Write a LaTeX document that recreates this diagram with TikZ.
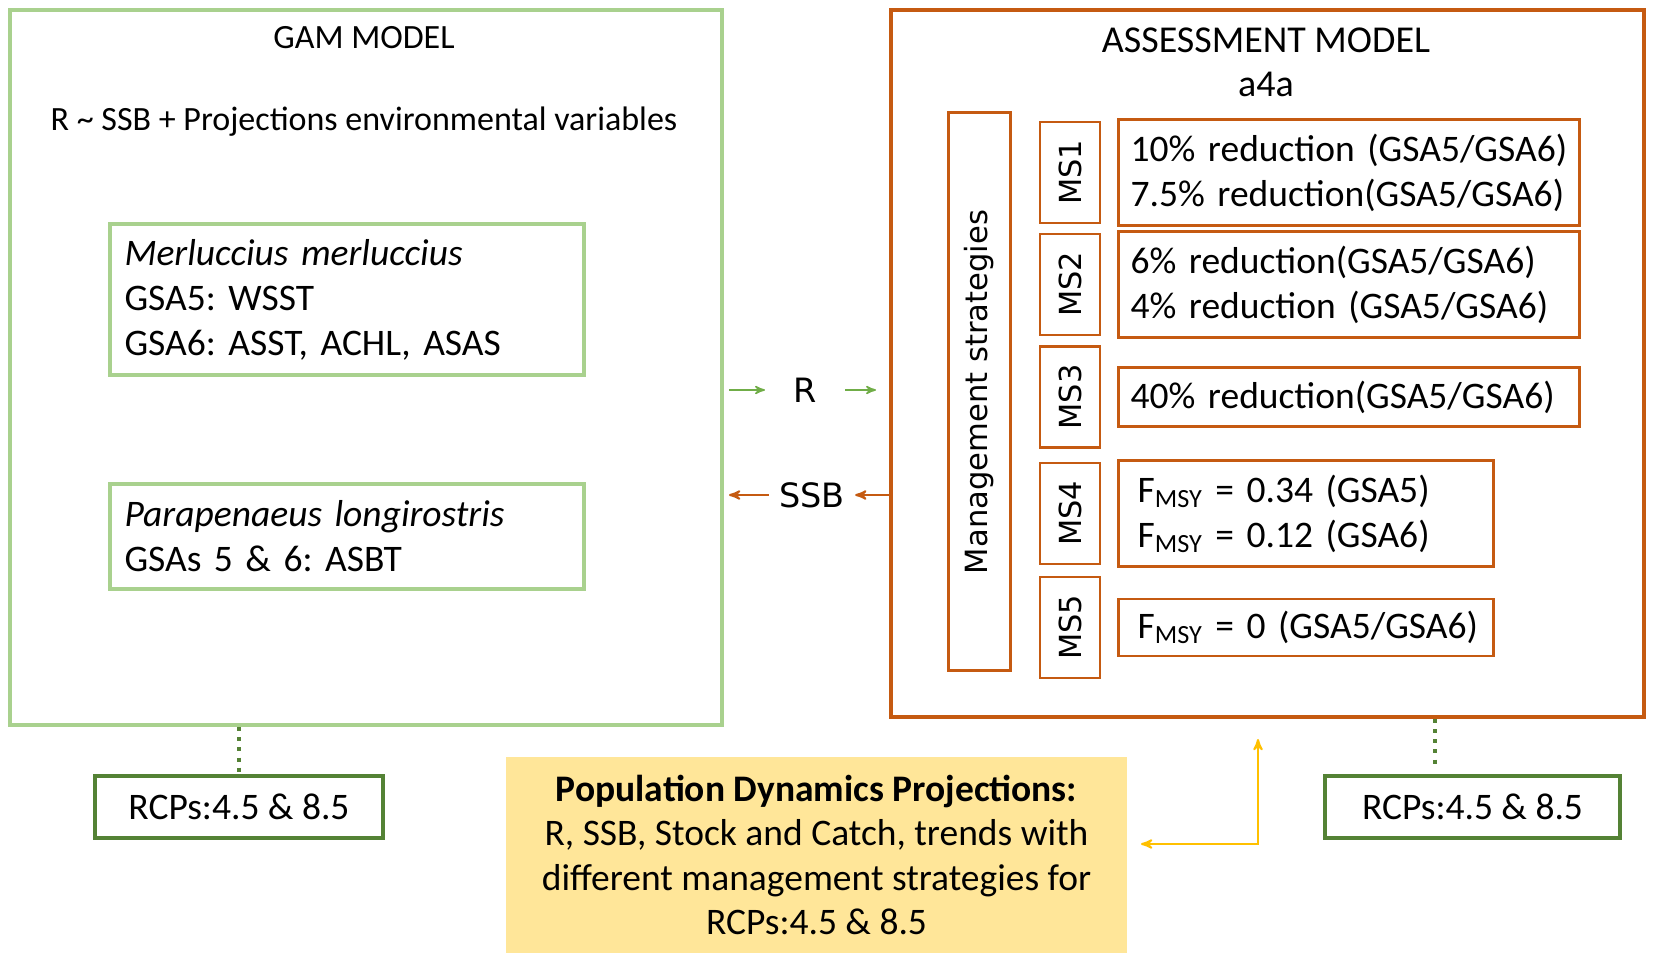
\documentclass[tikz,border=0pt]{standalone}
\usepackage{fontspec}
\setmainfont{Carlito}
\newfontfamily\vera{DejaVu Sans}
\usetikzlibrary{arrows,positioning}
\definecolor{lgreen}{HTML}{A9D18E}
\definecolor{dgreen}{HTML}{548235}
\definecolor{mgreen}{HTML}{70AD47}
\definecolor{rust}{HTML}{C55A11}
\definecolor{sand}{HTML}{FFE699}
\definecolor{gold}{HTML}{FFC000}
\frenchspacing

\begin{document}
\begin{tikzpicture}[x=0.5pt,y=-0.5pt,>=stealth',
  font=\fontsize{18.75}{22.5}\selectfont,
  gbox/.style={draw=lgreen,line width=2pt},
  obox/.style={draw=rust,line width=2pt},
  spbox/.style={gbox,align=left,text width=222pt,inner xsep=7.5pt},
  msbox/.style={draw=rust,line width=1.3pt,minimum width=30pt,minimum height=50.5pt,
    inner sep=0pt,font=\vera\fontsize{15.2}{18}\selectfont},
  redbox/.style={draw=rust,line width=1.3pt,align=left,inner xsep=6pt,text width=218.5pt},
  rcp/.style={draw=dgreen,line width=2.4pt,minimum height=31pt},
  dotline/.style={dgreen,line width=2pt,dash pattern=on 2pt off 3pt},
  garrow/.style={->,mgreen,line width=0.8pt},
  oarrow/.style={->,rust,line width=1pt},
  link/.style={font=\vera\fontsize{16.75}{20}\selectfont}]
  \useasboundingbox (0,0) rectangle (1654,961);

  % GAM side
  \node[gbox,minimum width=356pt,minimum height=357.5pt] (gam) at (366,368) {};
  \node (gamt) at (364,38) [font=\fontsize{17}{20}\selectfont] {GAM MODEL};
  \node (frm) at (364,122) [font=\fontsize{17}{20}\selectfont] {R \textasciitilde{} SSB + Projections environmental variables};
  \node[spbox,minimum height=75.5pt] (mer) at (346.5,299.5)
    {\textit{Merluccius merluccius}\\GSA5: WSST\\GSA6: ASST, ACHL, ASAS};
  \node[spbox,minimum height=52.5pt] (par) at (346.5,536.5)
    {\textit{Parapenaeus longirostris}\\GSAs 5 \& 6: ASBT};

  % assessment side
  \node[obox,minimum width=376.5pt,minimum height=353.5pt] (ass) at (1267.5,364) {};
  \node (asst) at (1266,40) [font=\fontsize{19}{22}\selectfont] {ASSESSMENT MODEL};
  \node (a4a) at (1266,84) [font=\fontsize{19}{22}\selectfont] {a4a};
  \node[draw=rust,line width=1.5pt,minimum width=31pt,minimum height=279pt,inner sep=0pt,
    font=\vera\fontsize{15.3}{18}\selectfont] (mgt) at (979,392) {\rotatebox{90}{Management strategies}};

  \node[msbox] (ms1) at (1070,172.5) {\rotatebox{90}{MS1}};
  \node[msbox] (ms2) at (1070,284.5) {\rotatebox{90}{MS2}};
  \node[msbox] (ms3) at (1070,397)   {\rotatebox{90}{MS3}};
  \node[msbox] (ms4) at (1070,513.5) {\rotatebox{90}{MS4}};
  \node[msbox] (ms5) at (1070,627.5) {\rotatebox{90}{MS5}};

  \node[redbox,minimum height=53pt,right=8pt of ms1] (t1)
    {10\% reduction (GSA5/GSA6)\\7.5\% reduction(GSA5/GSA6)};
  \node[redbox,minimum height=53pt,right=8pt of ms2] (t2)
    {6\% reduction(GSA5/GSA6)\\4\% reduction (GSA5/GSA6)};
  \node[redbox,minimum height=29.5pt,right=8pt of ms3] (t3) {40\% reduction(GSA5/GSA6)};
  \node[redbox,minimum height=53pt,text width=168.5pt,inner xsep=9.5pt,right=8pt of ms4] (t4)
    {F\textsubscript{MSY} = 0.34 (GSA5)\\F\textsubscript{MSY} = 0.12 (GSA6)};
  \node[redbox,minimum height=28.5pt,text width=168.5pt,inner xsep=9.5pt,right=8pt of ms5] (t5)
    {\mbox{F\textsubscript{MSY} = 0 (GSA5/GSA6)}};

  % R and SSB between the models
  \node[link,inner xsep=14pt] (r) at (805,390) {R};
  \node[link,inner xsep=5pt] (ssb) at (812,495) {SSB};
  \draw[garrow,shorten <=2.5pt] (gam.east |- r) -- (r);
  \draw[garrow,shorten >=6.5pt] (r) -- (ass.west |- r);
  \draw[oarrow] (ass.west |- ssb) -- (ssb);
  \draw[oarrow,shorten >=2.5pt] (ssb) -- (gam.east |- ssb);

  % scenarios
  \node[rcp,minimum width=144pt] (rcp1) at (239,807) {RCPs:4.5 \& 8.5};
  \node[rcp,minimum width=147.5pt] (rcp2) at (1472.5,807) {RCPs:4.5 \& 8.5};
  \draw[dotline] (gam.south -| rcp1) -- (rcp1);
  \coordinate (d2) at (1435,765);
  \draw[dotline] (ass.south -| d2) -- (d2);

  % projections
  \node[fill=sand,minimum width=310.5pt,minimum height=98pt,align=center,
    font=\fontsize{18.75}{22.25}\selectfont] (pdp) at (816.5,855)
    {\textbf{Population Dynamics Projections:}\\R, SSB, Stock and Catch, trends with\\different management strategies for\\RCPs:4.5 \& 8.5};
  \coordinate (ya) at (1141,844);
  \coordinate (yb) at (1258,739);
  \draw[<->,gold,line width=1pt] (ya) -| (yb);
\end{tikzpicture}
\end{document}
